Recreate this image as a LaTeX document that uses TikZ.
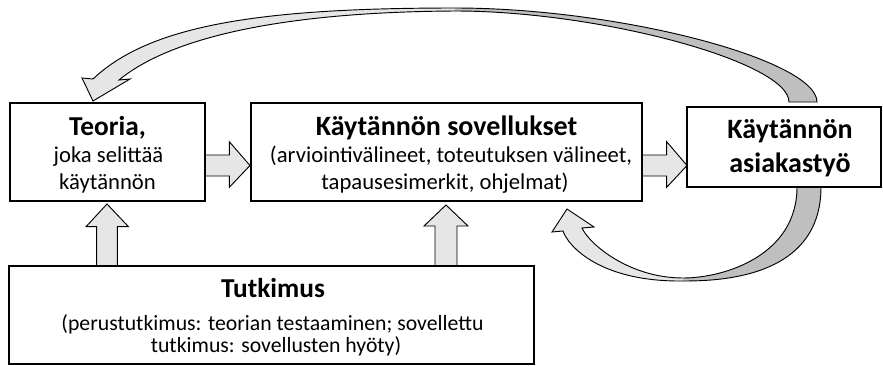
\documentclass[tikz,border=0pt]{standalone}
\usepackage{fontspec}
\setmainfont{Carlito}
\definecolor{lightg}{RGB}{230,230,230}
\definecolor{darkg}{RGB}{191,191,191}
\tikzset{
  box/.style={draw, line width=0.9pt, fill=white, inner sep=0pt},
  blk/.style={draw, line width=0.7pt, fill=lightg, line join=miter},
  edge/.style={draw, line width=0.7pt, line join=miter},
  ttl/.style={anchor=base, font=\bfseries\fontsize{20.5}{24}\selectfont, inner sep=0pt},
  ttlb/.style={anchor=base, font=\bfseries\fontsize{21}{25}\selectfont, inner sep=0pt},
  txt/.style={anchor=base, font=\fontsize{17}{20}\selectfont, inner sep=0pt},
  txts/.style={anchor=base, font=\fontsize{16.3}{19}\selectfont, inner sep=0pt},
}
\begin{document}
\begin{tikzpicture}[x=0.75pt,y=-0.75pt]
\useasboundingbox (0,0) rectangle (883,365);

% ---- curved arrow on top (asiakastyo -> teoria)
\fill[lightg] (455,8) .. controls (260,8) and (150,25) .. (93,79) -- (82,78) -- (93,101) -- (130,79) -- (119,80) .. controls (170,38) and (280,12) .. (455,11) -- cycle;
\fill[darkg] (455,8) .. controls (620,8) and (817,60) .. (817,102) -- (789,102) .. controls (789,62) and (600,11) .. (455,11) -- cycle;
\draw[edge] (789,102) .. controls (789,62) and (600,11) .. (455,11)
  .. controls (280,12) and (170,38) .. (119,80) -- (130,79) -- (93,101) -- (82,78) -- (93,79)
  .. controls (150,25) and (260,8) .. (455,8)
  .. controls (620,8) and (817,60) .. (817,102) -- cycle;

% ---- curved arrow below (asiakastyo -> sovellukset)
\fill[darkg] (821,187) .. controls (821,278) and (720,281) .. (683,281) -- (683,278) .. controls (725,278) and (797,255) .. (797,187) -- cycle;
\fill[lightg] (683,281) .. controls (600,282) and (568,246) .. (563,231) -- (552,232) -- (567,209) -- (594,227) -- (582,228) .. controls (590,245) and (630,278) .. (683,278) -- cycle;
\draw[edge] (821,187) .. controls (821,278) and (720,281) .. (683,281)
  .. controls (600,282) and (568,246) .. (563,231) -- (552,232) -- (567,209) -- (594,227) -- (582,228)
  .. controls (590,245) and (630,278) .. (683,278)
  .. controls (725,278) and (797,255) .. (797,187);

% ---- straight block arrows
\path[blk] (205,155) -- (229.3,155) -- (229.3,141.7) -- (250,165.5) -- (229.3,187.3) -- (229.3,176) -- (205,176) -- cycle;
\path[blk] (642,155) -- (666.7,155) -- (666.7,141.7) -- (687,165.5) -- (666.7,187.3) -- (666.7,176) -- (642,176) -- cycle;
\path[blk] (96.7,266) -- (96.7,226.7) -- (86,226.7) -- (107,204) -- (128.5,226.7) -- (117.3,226.7) -- (117.3,266) -- cycle;
\path[blk] (435,266) -- (435,226) -- (424,226) -- (446,205) -- (468,226) -- (457,226) -- (457,266) -- cycle;

% ---- boxes
\node[box, minimum width=146.25pt, minimum height=73.5pt] (teoria) at (107.5,152) {};
\node[box, minimum width=293.25pt, minimum height=73.5pt] (sovel) at (446.5,152) {};
\node[box, minimum width=145.5pt, minimum height=60pt] (asiakas) at (784,147) {};
\node[box, minimum width=393.75pt, minimum height=73.5pt] (tutk) at (271.5,315) {};

% ---- texts
\node[ttl] (t1) at (107.5,135) {Teoria,};
\node[txt] (t2) at (108.5,162) {joka selittää};
\node[txt] (t3) at (107.5,189) {käytännön};

\node[ttlb] (s1) at (446.5,135) {Käytännön sovellukset};
\node[txt] (s2) at (451,162) {(arviointivälineet, toteutuksen välineet,};
\node[txt] (s3) at (445,189) {tapausesimerkit, ohjelmat)};

\node[ttlb] (a1) at (790,138) {Käytännön};
\node[ttlb] (a2) at (790,172) {asiakastyö};

\node[ttl] (u1) at (273,297) {Tutkimus};
\node[txts] (u2) at (272.5,330) {(perustutkimus: teorian testaaminen; sovellettu};
\node[txts] (u3) at (276,352) {tutkimus: sovellusten hyöty)};
\end{tikzpicture}
\end{document}
